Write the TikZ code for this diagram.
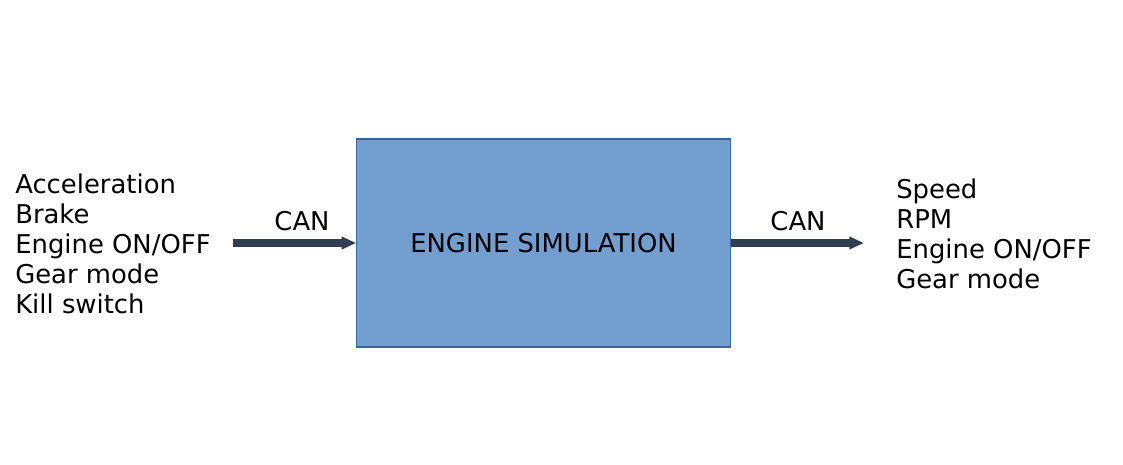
\documentclass[tikz,border=0pt]{standalone}
\usepackage{fontspec}
\setmainfont{DejaVu Sans}
\usetikzlibrary{arrows.meta,positioning}
\definecolor{boxfill}{HTML}{729FCF}
\definecolor{boxline}{HTML}{3465A4}
\definecolor{busline}{HTML}{2F3E50}

\begin{document}
\begin{tikzpicture}
    [x=0.75pt,y=0.75pt,inner sep=0pt,
    block/.style={rectangle,draw=boxline,fill=boxfill,line width=0.8pt,
        minimum width=280pt,minimum height=156pt,font=\fontsize{19.4}{22.5}\selectfont},
    signals/.style={align=left,anchor=west,font=\fontsize{19.4}{22.5}\selectfont},
    buslabel/.style={font=\fontsize{19.4}{22.5}\selectfont},
    bus/.style={draw=busline,line width=5.5pt,-{Triangle[length=11pt,width=9pt]}}]
    \useasboundingbox (0,0) rectangle (1123,464);
    \node (engine) at (543.5,221) [block] {ENGINE SIMULATION};
    \node (inputs) at (15,220.5) [signals] {Acceleration\\Brake\\Engine ON/OFF\\Gear mode\\Kill switch};
    \node (outputs) at (896,230) [signals] {Speed\\RPM\\Engine ON/OFF\\Gear mode};
    \coordinate (busin) at (233,221);
    \coordinate (busout) at (864,221);
    \node (canin) at (302,243) [buslabel] {CAN};
    \node (canout) at (798,243) [buslabel] {CAN};
    \draw [bus] (busin) -- (engine.west);
    \draw [bus] (engine.east) -- (busout);
\end{tikzpicture}
\end{document}
